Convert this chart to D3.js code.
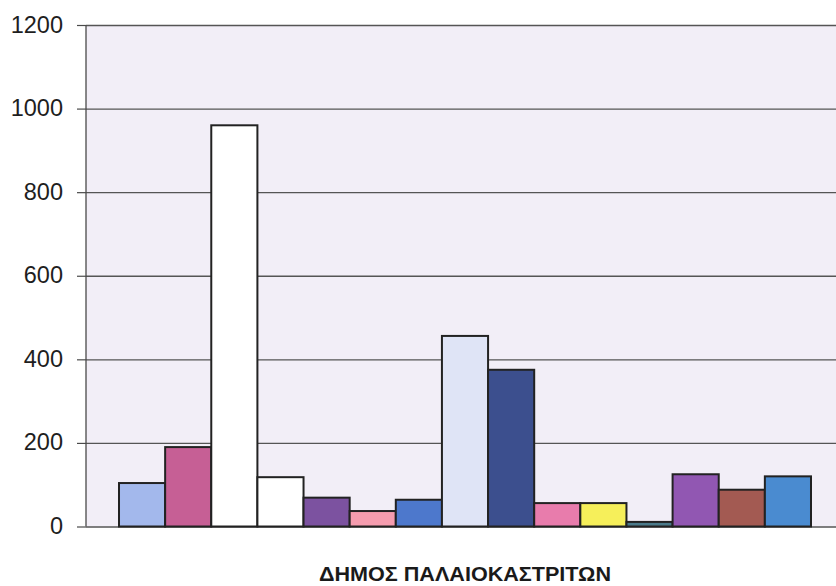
<!DOCTYPE html>
<html>
<head>
<meta charset="utf-8">
<script src="https://cdn.jsdelivr.net/npm/d3@7"></script>
<style>
  html, body { margin: 0; padding: 0; background: #ffffff; }
  svg { display: block; }
</style>
</head>
<body>
<svg id="chart" width="836" height="586"></svg>
<script>
const categories = ["ΔΗΜΟΣ ΠΑΛΑΙΟΚΑΣΤΡΙΤΩΝ"];
const seriesNames = ["1","2","3","4","5","6","7","8","9","10","11","12","13","14","15"];
const seriesValues = [104, 190, 960, 118, 69, 37, 64, 456, 375, 56, 56, 11, 125, 88, 120];
const seriesColors = ["#a3b8ec","#c65f95","#ffffff","#ffffff","#7c52a0","#f59cae","#4d78cc","#dfe4f6","#3c4f8e","#e87cac","#f6ef5a","#4a7a8a","#9157b2","#a35a52","#4a8bd0"];
const yTicks = [0, 200, 400, 600, 800, 1000, 1200];

const svg = d3.select("#chart");
const plot = { left: 86, right: 844, top: 25, bottom: 526.5 };

const y = d3.scaleLinear().domain([0, 1200]).range([plot.bottom, plot.top]);
const xCat = d3.scaleBand().domain(categories).range([plot.left, plot.right])
  .paddingInner(0).paddingOuter(0.0477);
const xSer = d3.scaleBand().domain(seriesNames).range([0, xCat.bandwidth()]).padding(0);

// plot background
svg.append("rect")
  .attr("x", plot.left).attr("y", plot.top)
  .attr("width", 836 - plot.left).attr("height", plot.bottom - plot.top)
  .attr("fill", "#f2eef7");

// gridlines
const yAxis = d3.axisLeft(y).tickValues(yTicks).tickSize(-(836 - plot.left)).tickPadding(0).tickFormat(() => "");
const gGrid = svg.append("g").attr("transform", `translate(${plot.left},0)`).call(yAxis);
gGrid.select(".domain").remove();
gGrid.selectAll(".tick line").attr("stroke", "#555").attr("stroke-width", 1.3);

// y axis
const yAxis2 = d3.axisLeft(y).tickValues(yTicks).tickSize(9).tickPadding(14).tickFormat(d3.format("d"));
const gAxis = svg.append("g").attr("transform", `translate(${plot.left},0)`).call(yAxis2);
gAxis.select(".domain").attr("stroke", "#4a4a4a").attr("stroke-width", 1.3)
  .attr("d", `M0,${plot.top}V${plot.bottom}`);
gAxis.selectAll(".tick line").attr("stroke", "#4a4a4a").attr("stroke-width", 1.2);
gAxis.selectAll(".tick text")
  .attr("font-family", "Liberation Sans, Arial, sans-serif")
  .attr("font-size", 23.5)
  .attr("fill", "#1e1e1e")
  .attr("dy", "0.3em");

// bars
const g = svg.append("g").attr("transform", `translate(${xCat(categories[0])},0)`);
g.selectAll("rect.bar")
  .data(seriesNames.map((s, i) => ({ s, v: seriesValues[i], c: seriesColors[i] })))
  .join("rect")
  .attr("class", "bar")
  .attr("x", d => xSer(d.s))
  .attr("y", d => y(d.v))
  .attr("width", xSer.bandwidth())
  .attr("height", d => y(0) - y(d.v))
  .attr("fill", d => d.c)
  .attr("stroke", "#222")
  .attr("stroke-width", 2);

// category label
svg.append("text")
  .attr("x", xCat(categories[0]) + xCat.bandwidth() / 2)
  .attr("y", 580.5)
  .attr("text-anchor", "middle")
  .attr("font-family", "Liberation Sans, Arial, sans-serif")
  .attr("font-weight", "bold")
  .attr("font-size", 20.5)
  .attr("textLength", 292)
  .attr("lengthAdjust", "spacingAndGlyphs")
  .attr("fill", "#1a1a1a")
  .text(categories[0]);
</script>
</body>
</html>
